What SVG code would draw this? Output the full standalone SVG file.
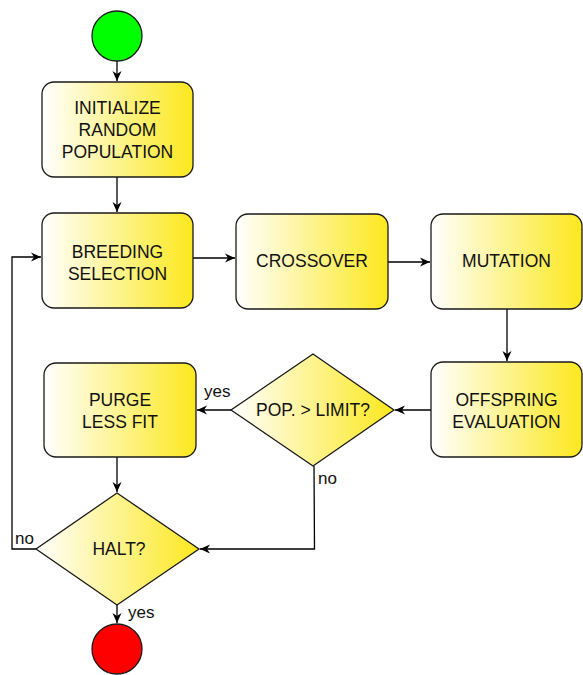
<svg xmlns="http://www.w3.org/2000/svg" width="583" height="675" viewBox="0 0 583 675">
  <defs>
    <linearGradient id="fillY" x1="0" y1="0" x2="1" y2="0">
      <stop offset="0" stop-color="#FFFFFF"/>
      <stop offset="1" stop-color="#FCE81E"/>
    </linearGradient>
    <marker id="arr" viewBox="0 0 10 10" refX="10" refY="5" markerWidth="10" markerHeight="10" markerUnits="userSpaceOnUse" orient="auto">
      <path d="M0,0.5 L10,5 L0,9.5 L3,5 Z" fill="#000"/>
    </marker>
  </defs>
  <style>
    .box { fill: url(#fillY); stroke: #1a1a1a; stroke-width: 1.3; }
    .lbl { font-family: "Liberation Sans", Arial, sans-serif; font-size: 17.5px; fill: #111; text-anchor: middle; }
    .edge { fill: none; stroke: #000; stroke-width: 1.3; marker-end: url(#arr); }
    .elbl { font-family: "Liberation Sans", Arial, sans-serif; font-size: 17px; fill: #111; }
  </style>

  <g id="connectors">
    <path class="edge" d="M117,61 L117,81"/>
    <path class="edge" d="M117,177 L117,212"/>
    <path class="edge" d="M193,258 L235,258"/>
    <path class="edge" d="M388,262 L430,262"/>
    <path class="edge" d="M507,309 L507,361"/>
    <path class="edge" d="M431,410 L395,410"/>
    <path class="edge" d="M231,410 L197,410"/>
    <path class="edge" d="M117,457 L117,492"/>
    <path class="edge" d="M314,466 L314.5,549 L200,549"/>
    <path class="edge" d="M117,605 L117,623"/>
    <path class="edge" d="M36,549 L12,549 L12,257 L41,257"/>
    <text class="elbl" x="204" y="397">yes</text>
    <text class="elbl" x="318" y="484">no</text>
    <text class="elbl" x="15" y="544">no</text>
    <text class="elbl" x="128" y="618">yes</text>
  </g>

  <g id="start">
    <circle cx="117" cy="36" r="25" fill="#00FF00" stroke="#1a1a1a" stroke-width="1.3"/>
  </g>

  <g id="init">
    <rect class="box" x="42" y="82" width="151" height="95" rx="12"/>
    <text class="lbl" x="117.5" y="114">INITIALIZE</text>
    <text class="lbl" x="117.5" y="136">RANDOM</text>
    <text class="lbl" x="117.5" y="158">POPULATION</text>
  </g>

  <g id="breeding">
    <rect class="box" x="42" y="213" width="151" height="95" rx="12"/>
    <text class="lbl" x="117.5" y="258">BREEDING</text>
    <text class="lbl" x="117.5" y="280">SELECTION</text>
  </g>

  <g id="crossover">
    <rect class="box" x="236" y="214" width="152" height="95" rx="12"/>
    <text class="lbl" x="312" y="267">CROSSOVER</text>
  </g>

  <g id="mutation">
    <rect class="box" x="431" y="214" width="151" height="95" rx="12"/>
    <text class="lbl" x="506.5" y="267">MUTATION</text>
  </g>

  <g id="offspring">
    <rect class="box" x="431" y="362" width="151" height="95" rx="12"/>
    <text class="lbl" x="506.5" y="406">OFFSPRING</text>
    <text class="lbl" x="506.5" y="428">EVALUATION</text>
  </g>

  <g id="popLimit">
    <path class="box" d="M313,354 L394,410 L313,466 L231,410 Z"/>
    <text class="lbl" x="313" y="416">POP. &gt; LIMIT?</text>
  </g>

  <g id="purge">
    <rect class="box" x="44" y="363" width="152" height="94" rx="12"/>
    <text class="lbl" x="120" y="406">PURGE</text>
    <text class="lbl" x="120" y="428">LESS FIT</text>
  </g>

  <g id="halt">
    <path class="box" d="M117,493 L199,549 L117,605 L36,549 Z"/>
    <text class="lbl" x="119" y="555">HALT?</text>
  </g>

  <g id="end">
    <circle cx="117" cy="649" r="25" fill="#FF0000" stroke="#1a1a1a" stroke-width="1.3"/>
  </g>
</svg>
